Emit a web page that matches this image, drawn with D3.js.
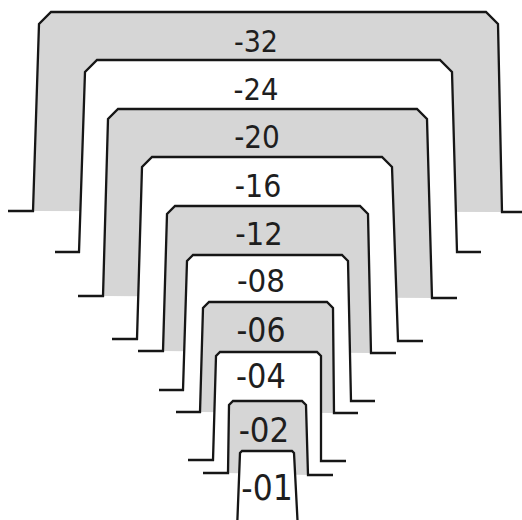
<!DOCTYPE html>
<html>
<head>
<meta charset="utf-8">
<script src="https://cdn.jsdelivr.net/npm/d3@7/dist/d3.min.js"></script>
<style>
  html, body { margin: 0; padding: 0; background: #ffffff; }
  svg { display: block; }
</style>
</head>
<body>
<div id="chart"></div>
<script>
// ---- data (in drawing units) ----
const labels      = ["-32", "-24", "-20", "-16", "-12", "-08", "-06", "-04", "-02", "-01"];
const topY        = [12, 60, 109, 157, 206, 255, 302, 352, 401, 451];
const baseLeftY   = [211, 252, 296, 339, 351, 390, 412, 460, 473, 530];
const baseRightY  = [212, 252, 298, 341, 353, 401, 413, 461, 475, 530];
const leftTopX    = [39, 85, 108, 142, 167, 187, 203, 216, 229, 240];
const leftBaseX   = [33, 79, 103, 137, 163, 183, 200, 213, 228, 237];
const rightTopX   = [498, 452, 427, 392, 368, 348, 333, 321, 306, 294];
const rightBaseX  = [502, 457, 432, 398, 371, 351, 334, 321, 308, 298];
const chamferSize = [12, 12, 10, 10, 8, 6, 6, 4, 4, 2];
const footLength  = [25, 24, 25, 25, 25, 24, 24, 25, 25, 0];
const shaded      = [true, false, true, false, true, false, true, false, true, false];
const labelX      = [256, 256, 257, 258, 259, 261, 261, 261, 264, 267];
const labelY      = [52, 100, 148, 197, 245, 292, 342, 388, 442, 500];

// ---- scales ----
const W = 522, H = 520;
const x = d3.scaleLinear().domain([0, 522]).range([0, W]);
const y = d3.scaleLinear().domain([0, 520]).range([0, H]);
const fontSize = d3.scaleLinear().domain([0, labels.length - 1]).range([30, 35]);

const svg = d3.select("#chart").append("svg")
  .attr("width", W).attr("height", H);

const levels = labels.map((lab, i) => ({
  lab, i,
  top: topY[i], bl: baseLeftY[i], br: baseRightY[i],
  ltx: leftTopX[i], lbx: leftBaseX[i], rtx: rightTopX[i], rbx: rightBaseX[i],
  c: chamferSize[i], f: footLength[i], shaded: shaded[i]
}));

function outline(d) {
  return [
    [d.lbx, d.bl],
    [d.ltx, d.top + d.c],
    [d.ltx + d.c, d.top],
    [d.rtx - d.c, d.top],
    [d.rtx, d.top + d.c],
    [d.rbx, d.br]
  ];
}

const line = d3.line().x(p => x(p[0])).y(p => y(p[1]));

const g = svg.selectAll("g.level").data(levels).join("g").attr("class", "level");

// fills
g.append("path")
  .attr("d", d => line(outline(d)) + "Z")
  .attr("fill", d => d.shaded ? "#d6d6d6" : "#ffffff")
  .attr("stroke", "none");

// outlines with feet
g.append("path")
  .attr("d", d => {
    const pts = outline(d);
    const full = [[d.lbx - d.f, d.bl], ...pts, [d.rbx + d.f, d.br]];
    return line(full);
  })
  .attr("fill", "none")
  .attr("stroke", "#161616")
  .attr("stroke-width", 2.3)
  .attr("stroke-linejoin", "miter");

// labels
svg.selectAll("text.lab").data(levels).join("text")
  .attr("class", "lab")
  .attr("x", d => x(labelX[d.i]))
  .attr("y", d => y(labelY[d.i]))
  .attr("text-anchor", "middle")
  .attr("font-family", "DejaVu Sans Condensed, DejaVu Sans, sans-serif")
  .attr("font-size", d => fontSize(d.i))
  .attr("fill", "#1e1e1e")
  .text(d => d.lab);
</script>
</body>
</html>
